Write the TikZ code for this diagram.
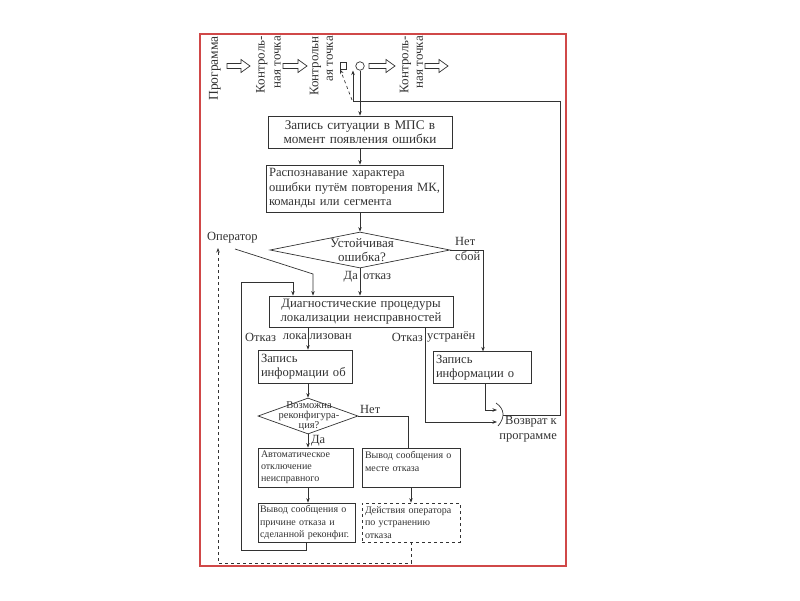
\documentclass[tikz,border=0pt]{standalone}
\usepackage{fontspec}
\setmainfont{Liberation Serif}
\usetikzlibrary{arrows.meta,shapes.geometric}
\definecolor{frame}{RGB}{208,72,72}
\definecolor{ink}{RGB}{50,50,50}
\newcommand\hollowarrow[3]{\draw[ln,fill=white] (#1,#3-2.5) -- (#2-9,#3-2.5) -- (#2-9,#3-6.5) -- (#2,#3) -- (#2-9,#3+6.5) -- (#2-9,#3+2.5) -- (#1,#3+2.5) -- cycle;}
\begin{document}
\begin{tikzpicture}[x=1pt,y=-1pt,
  ln/.style={draw=ink,line width=0.7pt},
  arr/.style={ln,-{Stealth[length=4.5pt,width=3.5pt]}},
  bx/.style={ln,rectangle,inner sep=3pt,font=\fontsize{12.6}{14.5}\selectfont,text=ink,anchor=center},
  sbx/.style={bx,font=\fontsize{10}{12.2}\selectfont,align=left},
  lbl/.style={inner sep=0pt,font=\fontsize{12.5}{15}\selectfont,text=ink},
  dmd/.style={ln,diamond,inner sep=0pt}
]
\useasboundingbox (0,0) rectangle (800,600);
\draw[frame,line width=1.2pt] (200,34) rectangle (566,566);

% top row
\node[lbl,rotate=90,anchor=east,font=\fontsize{13.5}{16}\selectfont] (t1) at (215,36) {Программа};
\node[lbl,rotate=90,anchor=east,align=right,font=\fontsize{13}{16}\selectfont] (t2) at (268.5,36) {Контроль-\\ная точка};
\node[lbl,rotate=90,anchor=east,align=right,font=\fontsize{13}{14.5}\selectfont] (t3) at (321.5,36) {Контрольн\\ая точка};
\node[lbl,rotate=90,anchor=east,align=right,font=\fontsize{13}{14.5}\selectfont] (t4) at (411.5,36) {Контроль-\\ная точка};
\hollowarrow{227}{250}{66}
\hollowarrow{283}{307}{66}
\hollowarrow{369}{395}{66}
\hollowarrow{425}{448}{66}
\node[ln,rectangle,minimum width=6pt,minimum height=7pt,inner sep=0pt] (sr) at (343.5,65.5) {};
\node[ln,circle,minimum size=8.5pt,inner sep=0pt] (cir) at (360,66) {};

% boxes
\node[bx,minimum width=184pt,minimum height=32pt,text width=174pt,align=center,font=\fontsize{13.2}{14}\selectfont] (b1) at (360,132) {Запись ситуации в МПС в\\момент появления ошибки};
\node[bx,minimum width=177pt,minimum height=47pt,text width=171pt,align=left] (b2) at (354.5,188.5) {Распознавание характера\\ошибки путём повторения МК,\\команды или сегмента};
\node[dmd,minimum width=180pt,minimum height=36pt] (d1) at (360,250) {};
\node[lbl,align=center,font=\fontsize{13}{14}\selectfont] (d1t) at (362,250) {Устойчивая\\ошибка?};
\node[bx,minimum width=184pt,minimum height=31pt,text width=178pt,align=center,font=\fontsize{12.8}{14}\selectfont] (dg) at (361,311.5) {Диагностические процедуры\\локализации неисправностей};
\node[bx,minimum width=94pt,minimum height=33pt,text width=88pt,align=left] (zb) at (305,366.5) {Запись\\информации об};
\node[bx,minimum width=98pt,minimum height=31pt,text width=92pt,align=left] (zo) at (482,367.5) {Запись\\информации о};
\node[dmd,minimum width=100pt,minimum height=36pt] (d2) at (308,416) {};
\node[lbl,align=center,font=\fontsize{10.5}{10}\selectfont] (d2t) at (309,416.5) {Возможна\\реконфигура-\\ция?};
\node[sbx,minimum width=95pt,minimum height=39pt,text width=89pt] (av) at (305.5,467.5) {Автоматическое\\отключение\\неисправного};
\node[sbx,minimum width=98pt,minimum height=39pt,text width=92pt] (ms) at (411,467.5) {Вывод сообщения о\\месте отказа\\\mbox{}};
\node[sbx,minimum width=97pt,minimum height=39pt,text width=93pt,inner sep=2pt] (pr) at (306.5,522.5) {Вывод сообщения о\\причине отказа и\\сделанной реконфиг.};
\node[sbx,dashed,minimum width=98pt,minimum height=39pt,text width=92pt] (ds) at (411,522.5) {Действия оператора\\по устранению\\отказа};

% labels
\node[lbl,anchor=west] (op) at (207,238) {Оператор};
\node[lbl,anchor=west] (net1) at (455,241) {Нет};
\node[lbl,anchor=west] (sboy) at (455,256) {сбой};
\node[lbl,anchor=east] (da1) at (358,277) {Да};
\node[lbl,anchor=west] (otk1) at (363,277) {отказ};
\node[lbl,anchor=west] (otk2) at (245,337) {Отказ};
\node[lbl,anchor=east] (lok1) at (307,337) {лока};
\node[lbl,anchor=west] (lok2) at (309.5,337) {лизован};
\node[lbl,anchor=east] (otk3) at (423,337) {Отказ};
\node[lbl,anchor=west] (ustr) at (427,337) {устранён};
\node[lbl,anchor=west] (net2) at (360,409) {Нет};
\node[lbl,anchor=west] (da2) at (311,441) {Да};
\node[lbl,anchor=east,align=right] (voz) at (557,429) {Возврат к\\программе};

% coordinates
\coordinate (up) at (353,70.5);
\coordinate (br) at (503,415);
\coordinate (opl) at (235,249);

% connectors
\draw[arr] (cir.south) -- (cir.south |- b1.north);
\draw[arr] (b1.south) -- (b1.south |- b2.north);
\draw[arr] (d1.north |- b2.south) -- (d1.north);
\draw[arr] (d1.south) -- (d1.south |- dg.north);
\draw[arr] (opl) -- (313,274) -- (313,274 |- dg.north);
\draw[arr] (pr.south) |- (241,550) -- (241,282) -- (293,282) -- (293,282 |- dg.north);
\draw[arr] (d1.east) -- (483,250) -- (483,250 |- zo.north);
\draw[arr] (308,0 |- dg.south) -- (308,0 |- zb.north);
\draw[arr] (425,0 |- dg.south) |- (497,422);
\draw[arr] (485,0 |- zo.south) |- (497,410);
\draw[ln] (496,403) .. controls (505,409) and (505,418) .. (498,426);
\draw[arr] (br) -- (560,415) -- (560,101) -- (353,101) -- (up);
\draw[arr,dashed] (352,100) -- (sr.south west);
\draw[arr] (d2.north |- zb.south) -- (d2.north);
\draw[ln] (d2.east) -- (408,416) -- (408,416 |- ms.north);
\draw[arr] (d2.south) -- (d2.south |- av.north);
\draw[arr] (308,0 |- av.south) -- (308,0 |- pr.north);
\draw[arr] (411,0 |- ms.south) -- (411,0 |- ds.north);
\draw[arr,dashed] (ds.south) |- (218,563) -- (218,248);
\end{tikzpicture}
\end{document}
